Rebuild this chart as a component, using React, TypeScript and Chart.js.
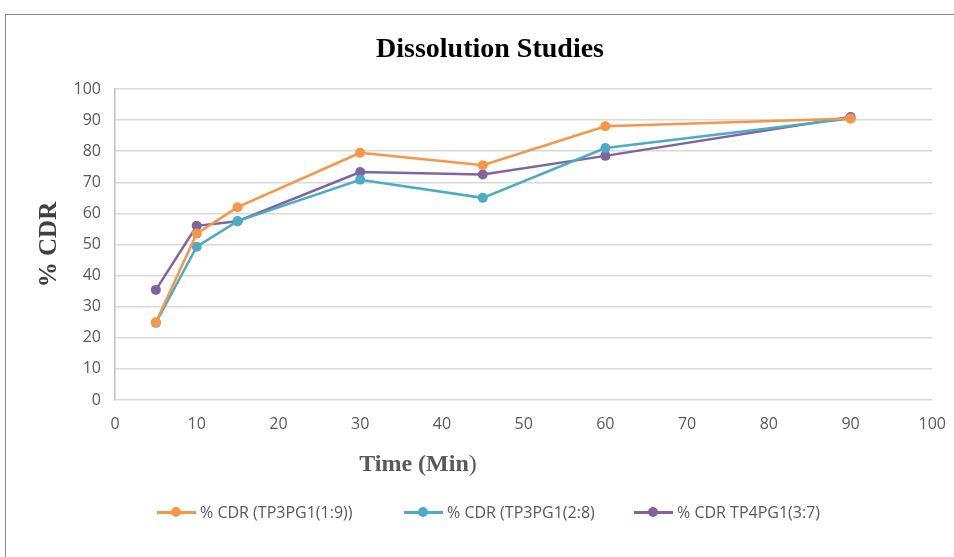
import React, { useEffect, useRef } from "react";
import { Chart, registerables } from "chart.js";

Chart.register(...registerables);

const timePoints = [5, 10, 15, 30, 45, 60, 90];
const seriesNames = ["% CDR (TP3PG1(1:9))", "% CDR (TP3PG1(2:8)", "% CDR TP4PG1(3:7)"];
const cdr19 = [25, 53.5, 62, 79.5, 75.5, 88, 90.5];
const cdr28 = [24.8, 49.3, 57.5, 70.8, 65, 81, 90.5];
const cdr37 = [35.4, 56, 57.5, 73.3, 72.5, 78.5, 91];
const seriesColors = ["#F79646", "#4BACC6", "#8064A2"];
const legendLefts = [157, 404, 634];

export default function App() {
  const ref = useRef<HTMLCanvasElement | null>(null);
  useEffect(() => {
    if (!ref.current) return;
    const all = [cdr19, cdr28, cdr37];
    const tickFont = { family: "'Open Sans', 'Liberation Sans', sans-serif", size: 16 };
    const chart = new Chart(ref.current, {
      type: "line",
      data: {
        datasets: all.map((vals, i) => ({
          label: seriesNames[i],
          data: vals.map((v, j) => ({ x: timePoints[j], y: v })),
          borderColor: seriesColors[i],
          backgroundColor: seriesColors[i],
          borderWidth: 2.5,
          pointRadius: 5,
          pointBorderWidth: 0,
          tension: 0,
        })),
      },
      options: {
        responsive: false,
        animation: false,
        layout: { padding: { left: 0, right: 0, top: 89, bottom: 77 } },
        plugins: { legend: { display: false }, title: { display: false }, tooltip: { enabled: false } },
        scales: {
          x: {
            type: "linear",
            min: 0,
            max: 100,
            ticks: { stepSize: 10, padding: 15, color: "#595959", font: tickFont },
            grid: { display: false, drawTicks: false },
            border: { display: false },
            afterFit: (s: any) => { s.height = 80; },
          },
          y: {
            min: 0,
            max: 100,
            ticks: { stepSize: 10, padding: 14, color: "#595959", font: tickFont },
            grid: { color: "#d9d9d9", lineWidth: 1.5, drawTicks: false },
            border: { display: true, color: "#bfbfbf", width: 1.5 },
            title: {
              display: true,
              text: "% CDR",
              color: "#404040",
              font: { family: "'Liberation Serif', 'Times New Roman', serif", size: 25, weight: "bold" },
              padding: { top: 35, bottom: 0 },
            },
            afterFit: (s: any) => { s.width = 115; },
          },
        },
      },
    });
    return () => chart.destroy();
  }, []);

  return (
    <div style={{ position: "fixed", left: 0, top: 0, width: 954, height: 557, background: "#fff", overflow: "hidden" }}>
      <div style={{ position: "absolute", left: 5, top: 14, width: 1000, height: 600, borderLeft: "1.5px solid #8a8a8a", borderTop: "1.5px solid #8a8a8a" }} />
      <canvas ref={ref} width={961} height={557} style={{ position: "absolute", left: 0, top: 0 }} />
      <div style={{ position: "absolute", left: 0, width: 980, top: 31, lineHeight: "34px", textAlign: "center", fontFamily: "'Liberation Serif', 'Times New Roman', serif", fontWeight: "bold", fontSize: 28, color: "#000" }}>
        Dissolution Studies
      </div>
      <div style={{ position: "absolute", left: 0, width: 836, top: 448, lineHeight: "30px", textAlign: "center", fontFamily: "'Liberation Serif', 'Times New Roman', serif", fontSize: 24, color: "#595959", whiteSpace: "nowrap" }}>
        <span style={{ fontWeight: "bold" }}>Time (Min</span>)
      </div>
      {seriesNames.map((name, i) => (
        <div key={name} style={{ position: "absolute", left: legendLefts[i], top: 502, height: 20, display: "flex", alignItems: "center", fontFamily: "'Open Sans', 'Liberation Sans', sans-serif", fontSize: 16, color: "#595959", whiteSpace: "nowrap" }}>
          <span style={{ position: "relative", display: "inline-block", width: 39, height: 20, marginRight: 4 }}>
            <span style={{ position: "absolute", left: 0, right: 0, top: 9, height: 2.5, background: seriesColors[i] }} />
            <span style={{ position: "absolute", left: 14, top: 5, width: 10, height: 10, borderRadius: 5, background: seriesColors[i] }} />
          </span>
          {name}
        </div>
      ))}
    </div>
  );
}
